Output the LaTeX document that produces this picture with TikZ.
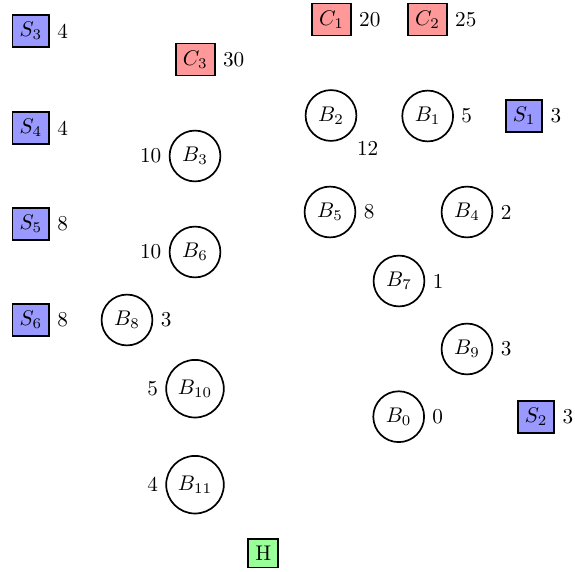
\documentclass[tikz,border=0pt]{standalone}
\begin{document}
\begin{tikzpicture}[x=0.4717pt, y=-0.4717pt,
  bnode/.style={circle, draw, thick, inner sep=3.33pt},
  snode/.style={rectangle, draw, thick, fill=blue!40},
  cnode/.style={rectangle, draw, thick, fill=red!40},
  hnode/.style={rectangle, draw, thick, fill=green!40}]
\useasboundingbox (0,0) rectangle (575,572);
% sinks / sources
\node[snode, label=right:4] (S3) at (30.8,31) {$S_3$};
\node[snode, label=right:4] (S4) at (30.8,128) {$S_4$};
\node[snode, label=right:8] (S5) at (30.8,224) {$S_5$};
\node[snode, label=right:8] (S6) at (30.8,320) {$S_6$};
\node[snode, label=right:3] (S1) at (524,116) {$S_1$};
\node[snode, label=right:3] (S2) at (536,417) {$S_2$};
% C nodes
\node[cnode, label=right:20] (C1) at (331.5,19.5) {$C_1$};
\node[cnode, label=right:25] (C2) at (427.5,19.5) {$C_2$};
\node[cnode, label=right:30] (C3) at (195.3,59.5) {$C_3$};
% B nodes
\node[bnode, label=below right:12] (B2) at (331,115.5) {$B_2$};
\node[bnode, label=right:5] (B1) at (427.7,116) {$B_1$};
\node[bnode, label=left:10] (B3) at (195,156) {$B_3$};
\node[bnode, label=right:8] (B5) at (330,212) {$B_5$};
\node[bnode, label=right:2] (B4) at (467,212) {$B_4$};
\node[bnode, label=left:10] (B6) at (195,252) {$B_6$};
\node[bnode, label=right:1] (B7) at (399,281) {$B_7$};
\node[bnode, label=right:3] (B8) at (127,320) {$B_8$};
\node[bnode, label=right:3] (B9) at (467,349) {$B_9$};
\node[bnode, label=left:5] (B10) at (195,388.7) {$B_{10}$};
\node[bnode, label=right:0] (B0) at (398.7,416.7) {$B_0$};
\node[bnode, label=left:4] (B11) at (195,484.7) {$B_{11}$};
\node[hnode] (H) at (263.3,553.3) {H};
\end{tikzpicture}
\end{document}
